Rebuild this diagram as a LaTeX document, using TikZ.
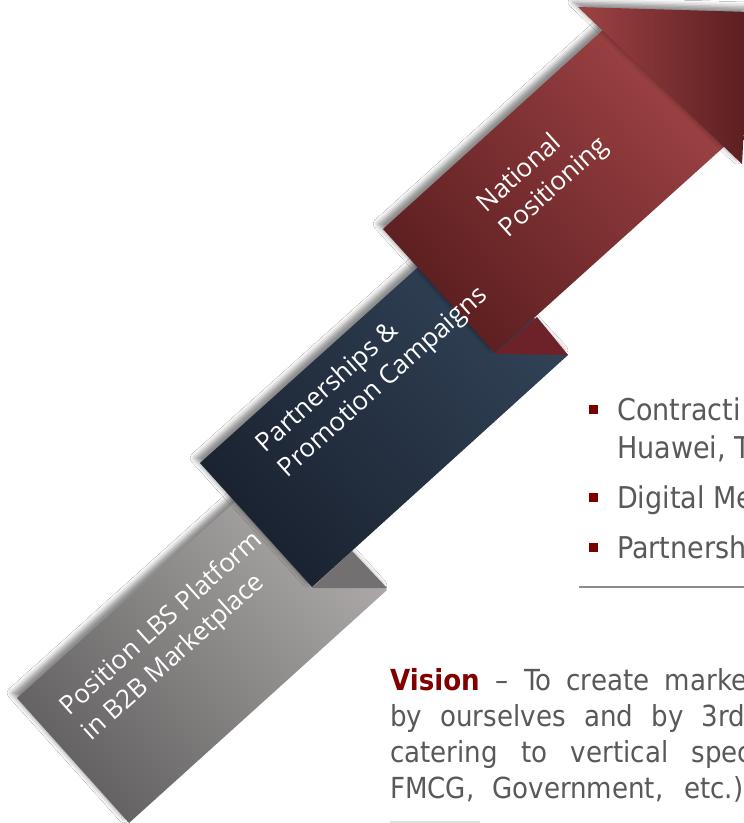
\documentclass[tikz,border=0pt]{standalone}
\usepackage{fontspec}
\usetikzlibrary{shadows.blur}
\newfontfamily\bandfont{Open Sans}
\newfontfamily\bodyfont{DejaVu Sans Condensed}
\definecolor{GrayDark}{HTML}{646162}
\definecolor{GrayLight}{HTML}{ADAAA9}
\definecolor{GrayFold}{HTML}{737071}
\definecolor{NavyDark}{HTML}{1A2230}
\definecolor{NavyLight}{HTML}{324358}
\definecolor{RedDark}{HTML}{5B1E20}
\definecolor{RedLight}{HTML}{9D4244}
\definecolor{RedFold}{HTML}{6D2129}
\definecolor{TextClr}{HTML}{595959}
\definecolor{BulletClr}{HTML}{7A0000}
\definecolor{VisionClr}{HTML}{800000}
\definecolor{RuleClr}{HTML}{8C8C8C}
\definecolor{FaintClr}{HTML}{E0E0E0}

\tikzset{
  band/.style={blur shadow={shadow xshift=-5pt,shadow yshift=5pt,shadow blur radius=5pt,shadow opacity=45}},
  grayband/.style={band,bottom color=GrayDark,top color=GrayLight,shading angle=-48},
  navyband/.style={band,bottom color=NavyDark,top color=NavyLight,shading angle=-48},
  redband/.style={band,bottom color=RedDark,top color=RedLight,shading angle=-48},
  bandtext/.style={text=white,font=\bandfont\fontsize{26}{33}\selectfont,align=left,rotate=42,anchor=west,inner sep=0pt},
  bodytext/.style={text=TextClr,font=\bodyfont\fontsize{30}{38}\selectfont,align=left,anchor=base west,inner sep=0pt},
  bulletmark/.style={fill=BulletClr,minimum size=9pt,inner sep=0pt},
}

\begin{document}
\begin{tikzpicture}[x=1pt,y=-1pt]
\clip (0,0) rectangle (744,823);
\fill[white] (0,0) rectangle (744,823);

% ribbon, bottom step first
\path[grayband] (17,698) -- (275,466) -- (387,590) -- (129,823) -- cycle;
\fill[GrayFold] (312,588) -- (387,588) -- (352,551) -- cycle;
\path[navyband] (200,463) -- (456,233) -- (568,355) -- (312,587) -- cycle;
\fill[RedFold] (495,354) -- (568,355) -- (537,317) -- cycle;
\path[redband] (383,229) -- (604,29) -- (726,145) -- (495,353) -- cycle;
% arrow head
\path[band,left color=RedLight,right color=RedDark] (578,7) -- (750,12) -- (742,164) -- cycle;

\node[bandtext] (lbs) at (76,724) {Position LBS Platform\\in B2B Marketplace};
\node[bandtext] (promo) at (272,461) {Partnerships \&\\Promotion Campaigns};
\node[bandtext] (natl) at (493,221) {National\\Positioning};

% bullet list (base = last line)
\node[bulletmark] (b1) at (593,409) {};
\node[bodytext] (contract) at (617,458) {Contracti\\Huawei, T};
\node[bulletmark] (b2) at (593,497) {};
\node[bodytext] (digital) at (617,508) {Digital Me};
\node[bulletmark] (b3) at (593,547) {};
\node[bodytext] (partner) at (617,558) {Partnersh};
\draw[RuleClr,line width=1.2pt] (579,587) -- (744,587);

% vision paragraph
\node[bodytext,font=\bodyfont\fontsize{29}{36}\selectfont] (vision) at (390,798) {%
  \makebox[357pt][s]{\textcolor{VisionClr}{\bfseries Vision} – To create marke}\\
  \makebox[355pt][s]{by ourselves and by 3rd}\\
  \makebox[362pt][s]{catering to vertical spec}\\
  \makebox[353pt][s]{FMCG, Government, etc.)}};
\draw[FaintClr,line width=1.5pt] (390,822) -- (480,822);
\end{tikzpicture}
\end{document}
